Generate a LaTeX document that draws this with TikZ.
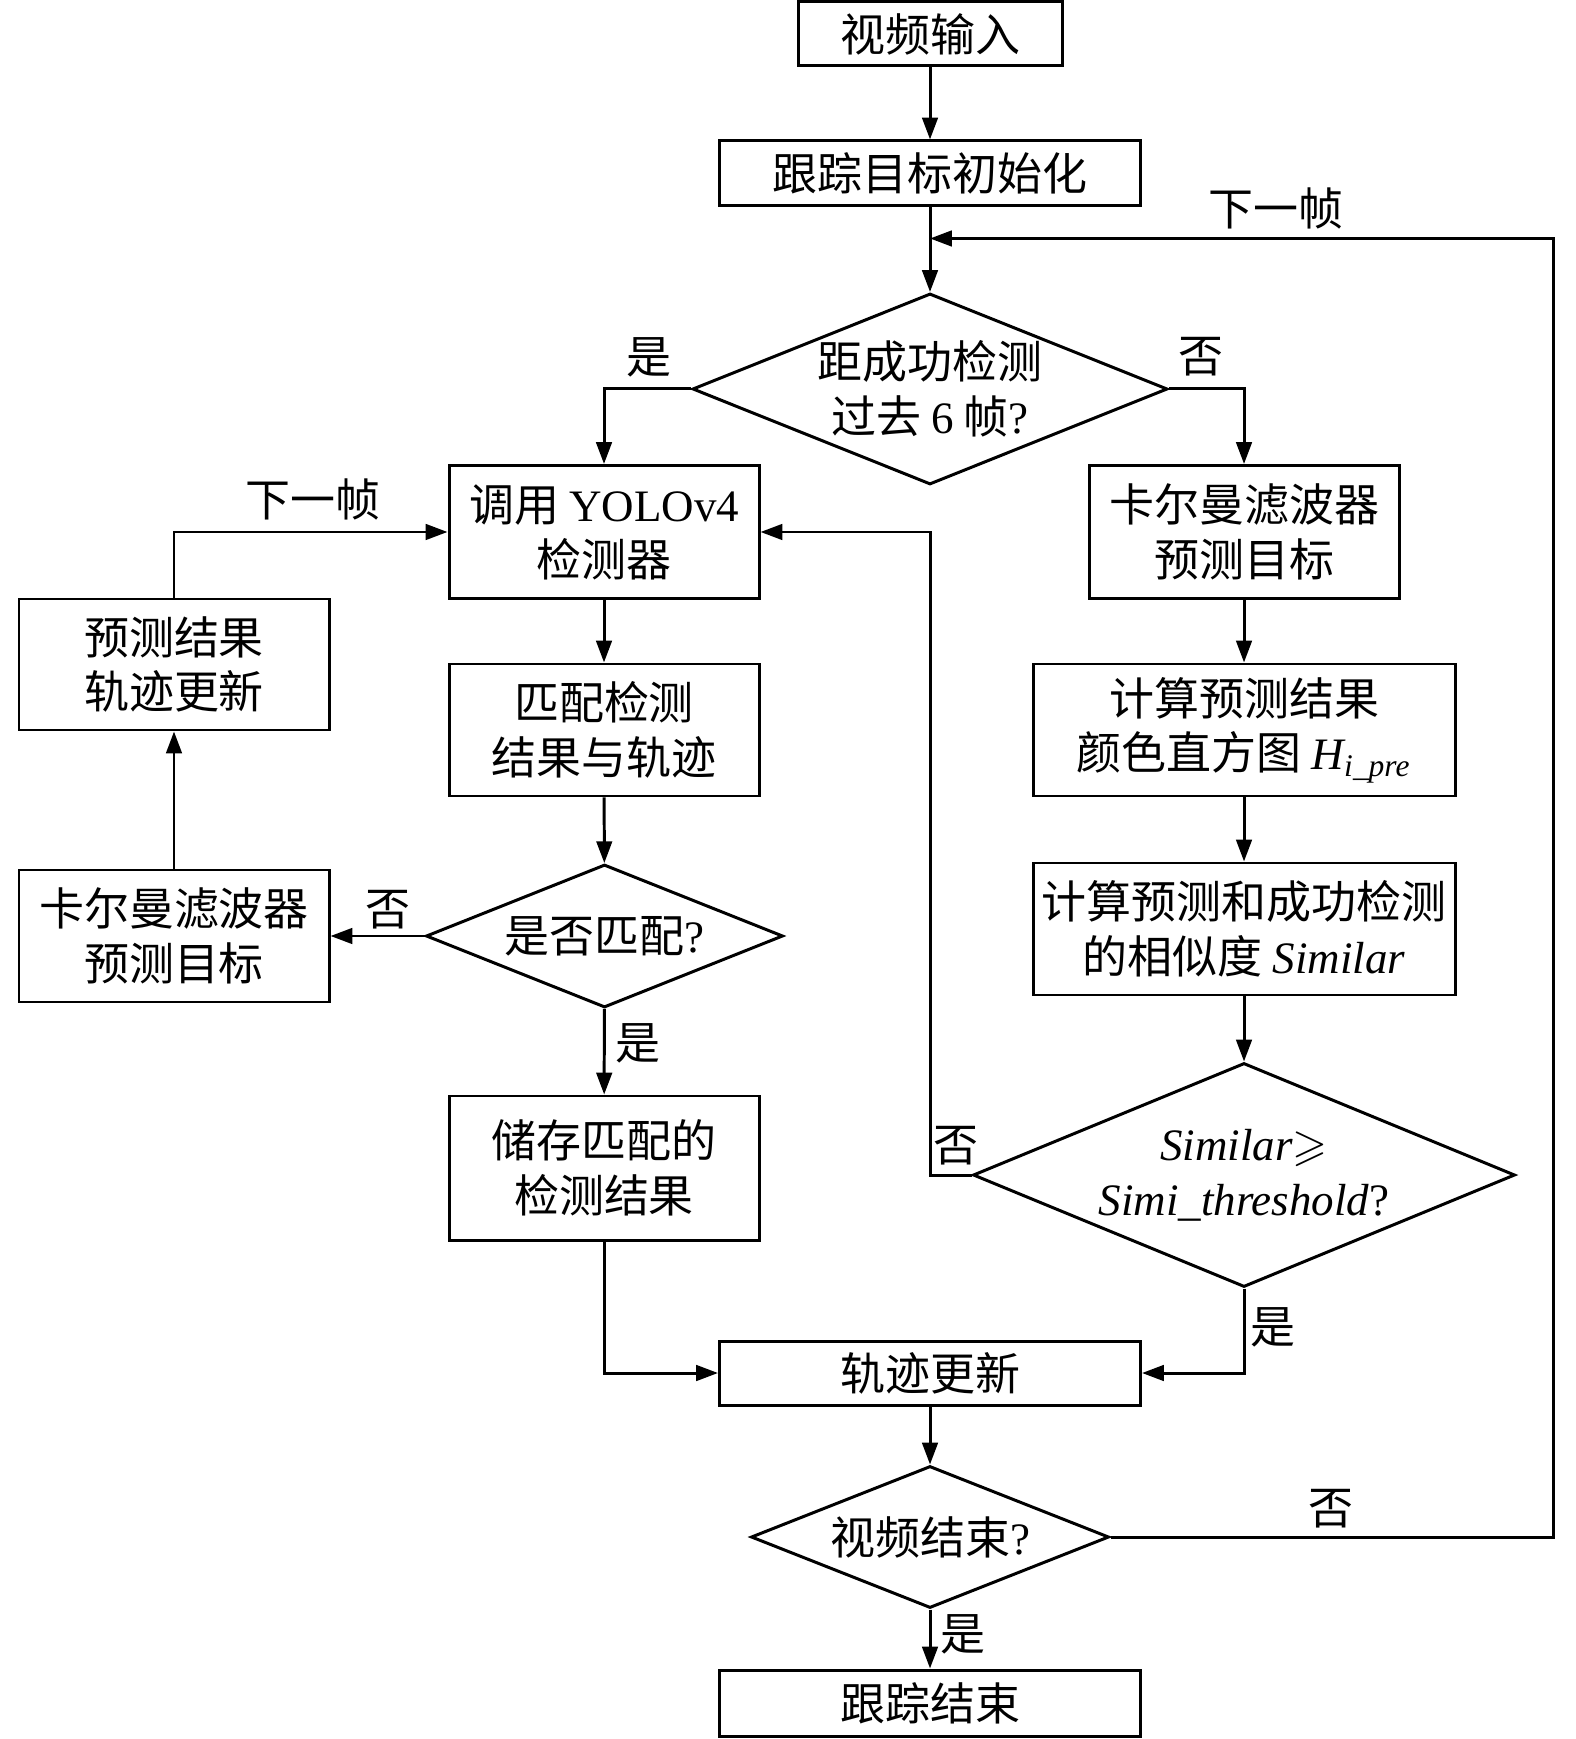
\documentclass[tikz,border=0pt]{standalone}
\usepackage{amsmath,amssymb}
\usepackage{fontspec}
\setmainfont{Liberation Serif}
\newfontfamily\cjk{Noto Sans CJK SC}
\newcommand\zhfont{\cjk\fontsize{12.8}{15.6}\selectfont}
\usetikzlibrary{shapes.geometric, arrows.meta, positioning}

\tikzset{
  box/.style={draw, rectangle, inner sep=0pt, align=center, font=\zhfont},
  smallbox/.style={box, minimum width=3.10cm, minimum height=1.32cm},
  widebox/.style={box, minimum width=4.22cm, minimum height=1.32cm},
  flatbox/.style={box, minimum width=4.21cm, minimum height=0.65cm},
  decision/.style={draw, diamond, aspect=2.5, inner sep=-1pt, align=center, font=\zhfont},
  lbl/.style={inner sep=0pt, font=\zhfont}
}

\begin{document}
\begin{tikzpicture}[>={Triangle[length=6.2pt,width=4.4pt]}, line width=0.85pt]
\useasboundingbox (0,0) rectangle (15.75,-17.39);

% 中间主线
\node[box, minimum width=2.64cm, minimum height=0.64cm] (input) at (9.30,-0.34) {视频输入};
\node[flatbox] (init) at (9.30,-1.735) {跟踪目标初始化};
\coordinate (join) at (9.30,-2.385);
\node[decision, minimum width=4.75cm, minimum height=1.91cm] (dist) at (9.30,-3.89)
  {距成功检测\\过去 {\rmfamily 6} 帧{\rmfamily ?}};

% 左侧: 检测分支
\node[smallbox, minimum height=1.33cm] (yolo) at (6.04,-5.32) {调用 {\rmfamily YOLOv4}\\检测器};
\node[smallbox] (match) at (6.04,-7.30) {匹配检测\\结果与轨迹};
\node[decision, minimum width=3.57cm, minimum height=1.43cm] (ismatch) at (6.045,-9.36) {是否匹配{\rmfamily ?}};
\node[smallbox, minimum height=1.44cm] (store) at (6.04,-11.68) {储存匹配的\\检测结果};
\node[smallbox] (kalL) at (1.74,-9.36) {卡尔曼滤波器\\预测目标};
\node[smallbox, minimum height=1.31cm] (predupd) at (1.74,-6.645) {预测结果\\轨迹更新};

% 右侧: 预测分支
\node[smallbox, minimum height=1.33cm] (kalR) at (12.44,-5.32) {卡尔曼滤波器\\预测目标};
\node[widebox] (hist) at (12.44,-7.30)
  {计算预测结果\\颜色直方图 {\rmfamily\itshape H}\textsubscript{\rmfamily\itshape i\_pre}};
\node[widebox] (simcalc) at (12.44,-9.29) {计算预测和成功检测\\的相似度 {\rmfamily\itshape Similar}};
\node[decision, aspect=2.42, minimum width=5.42cm, minimum height=2.24cm] (simdec) at (12.44,-11.75)
  {{\rmfamily\itshape Similar}$\geqslant$\\{\rmfamily\itshape Simi\_threshold}{\rmfamily ?}};
\coordinate (back) at (9.30,-11.75);

% 底部
\node[flatbox, minimum height=0.64cm] (update) at (9.30,-13.73) {轨迹更新};
\node[decision, minimum width=3.58cm, minimum height=1.42cm] (endq) at (9.30,-15.37) {视频结束{\rmfamily ?}};
\node[flatbox, minimum height=0.66cm] (finish) at (9.30,-17.03) {跟踪结束};
\coordinate (rloop) at (15.53,-15.37);

% 连线
\draw[->] (input) -- (init);
\draw[->] (init) -- (dist);
\draw[->] (dist.west) -| (yolo.north);
\draw[->] (dist.east) -| (kalR.north);
\draw[->] (yolo) -- (match);
\draw[->] (match) -- (ismatch);
\draw[->] (ismatch.west) -- (kalL.east);
\draw[->] (kalL) -- (predupd);
\draw[->] (predupd.north) |- (yolo.west);
\draw[->] (ismatch) -- (store);
\draw[->] (store.south) |- (update.west);
\draw[->] (kalR) -- (hist);
\draw[->] (hist) -- (simcalc);
\draw[->] (simcalc) -- (simdec);
\draw[->] (simdec.west) -- (back) |- (yolo.east);
\draw[->] (simdec.south) |- (update.east);
\draw[->] (update) -- (endq);
\draw[->] (endq) -- (finish);
\draw[->] (endq.east) -- (rloop) |- (join);

% 标注
\node[lbl] (nextR) at (12.76,-2.085) {下一帧};
\node[lbl] (yes1) at (6.49,-3.57) {是};
\node[lbl] (no1) at (12.01,-3.57) {否};
\node[lbl] (nextL) at (3.13,-4.99) {下一帧};
\node[lbl] (no2) at (3.88,-9.095) {否};
\node[lbl] (yes2) at (6.38,-10.43) {是};
\node[lbl] (no3) at (9.56,-11.46) {否};
\node[lbl] (yes3) at (12.73,-13.27) {是};
\node[lbl] (no4) at (13.31,-15.085) {否};
\node[lbl] (yes4) at (9.63,-16.34) {是};

\end{tikzpicture}
\end{document}
